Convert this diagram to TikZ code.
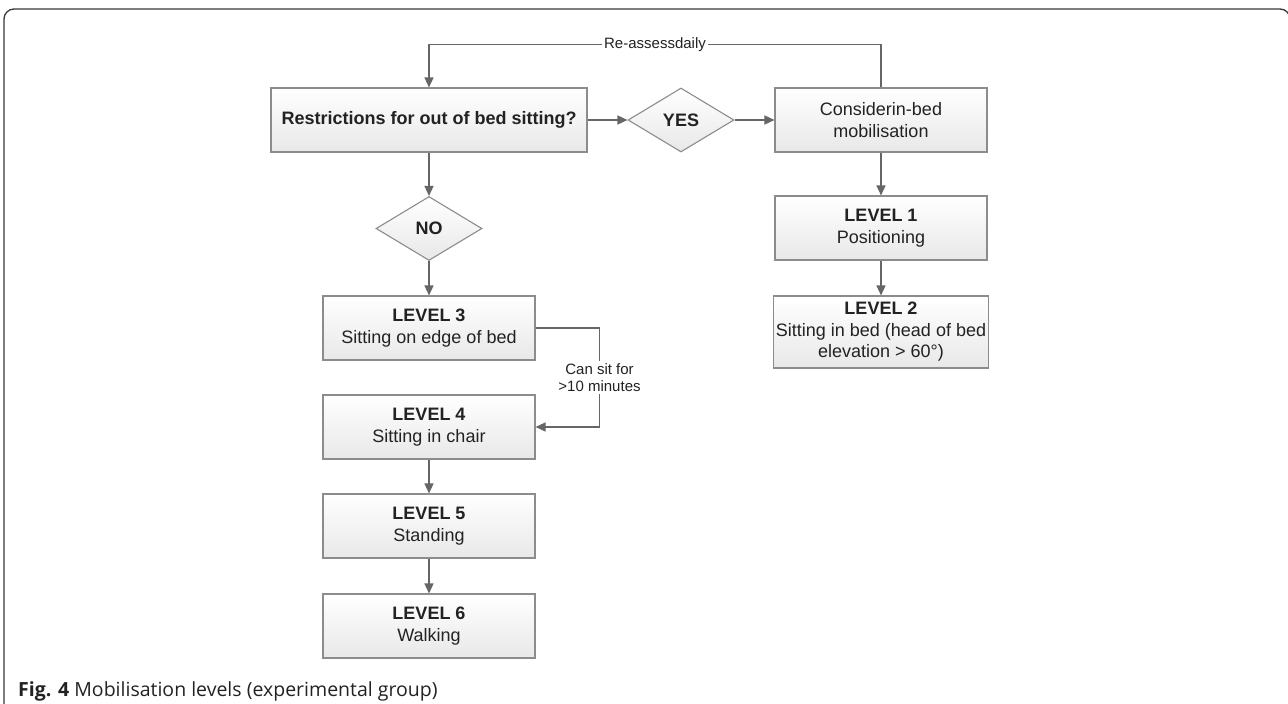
\documentclass[tikz,border=0pt]{standalone}
\usepackage{fontspec}
\setmainfont{Liberation Sans}
\newfontfamily\capfont{Open Sans}
\usepackage{xcolor}
\usetikzlibrary{shapes.geometric, arrows.meta, positioning, shadows}

\definecolor{boxline}{HTML}{8C8C8C}
\definecolor{boxlow}{HTML}{E8E8E8}
\definecolor{flowgray}{HTML}{666666}
\definecolor{inkgray}{HTML}{222222}

\tikzset{
    stagebox/.style={draw=boxline, line width=1.1pt, top color=white, bottom color=boxlow,
        drop shadow={shadow xshift=1.2pt, shadow yshift=-1.2pt, fill=black!35, opacity=0.35},
        minimum width=212pt, minimum height=64pt, inner sep=2pt, align=center,
        text=inkgray, font=\fontsize{18}{21.5}\selectfont},
    decision/.style={diamond, draw=boxline, line width=1.1pt, top color=white, bottom color=boxlow,
        minimum width=106pt, minimum height=64pt, inner sep=0pt,
        text=inkgray, font=\fontsize{18}{21.5}\selectfont\bfseries},
    flow/.style={draw=flowgray, line width=1.4pt, -{Triangle[length=10pt, width=9pt]}},
    flowlabel/.style={fill=white, inner sep=2pt, text=inkgray, align=center,
        font=\fontsize{15}{17.7}\selectfont}
}

\begin{document}
\begin{tikzpicture}[x=1pt, y=-1pt]
    \useasboundingbox (0,0) rectangle (1288,704);
    % outer frame
    \draw[line width=1.3pt, draw=inkgray!90, rounded corners=10pt] (4,710) -- (4,9) -- (1290,9) -- (1290,710);

    % top row
    \node[stagebox, minimum width=316pt, font=\fontsize{18}{21.5}\selectfont\bfseries] (restr) at (429,120) {Restrictions for out of bed sitting?};
    \node[decision] (yes) at (681,120) {YES};
    \node[stagebox] (consider) at (881,120) {Considerin-bed\\mobilisation};

    % in-bed column
    \node[stagebox] (lvl1) at (881,228) {\textbf{LEVEL 1}\\Positioning};
    \node[stagebox, minimum height=72pt] (lvl2) at (881,332) {\textbf{LEVEL 2}\\Sitting in bed (head of bed\\elevation > 60°)};

    % out of bed column
    \node[decision] (no) at (429,228.5) {NO};
    \foreach \n/\y/\what in {3/328/Sitting on edge of bed, 4/427/Sitting in chair, 5/526/Standing, 6/626/Walking} {
        \node[stagebox] (lvl\n) at (429,\y) {\textbf{LEVEL \n}\\\what};
    }

    \draw[flow] (restr) -- (yes);
    \draw[flow] (yes) -- (consider);
    \draw[flow] (consider) -- (lvl1);
    \draw[flow] (lvl1) -- (lvl2);
    \draw[flow] (restr) -- (no);
    \draw[flow] (no) -- (lvl3);
    \draw[flow] (lvl4) -- (lvl5);
    \draw[flow] (lvl5) -- (lvl6);

    \draw[flow] (consider.north) -- ++(0,-43) -| node[flowlabel, pos=0.25] {Re-assessdaily} (restr.north);
    \draw[flow] (lvl3.east) -- ++(64,0) |- node[flowlabel, pos=0.25] {Can sit for\\>10 minutes} (lvl4.east);

    % caption
    \node[anchor=base west, inner sep=0pt, text=inkgray, font=\capfont\fontsize{19.5}{22}\selectfont] (caption) at (18,696) {\textbf{Fig. 4} Mobilisation levels (experimental group)};
\end{tikzpicture}
\end{document}
